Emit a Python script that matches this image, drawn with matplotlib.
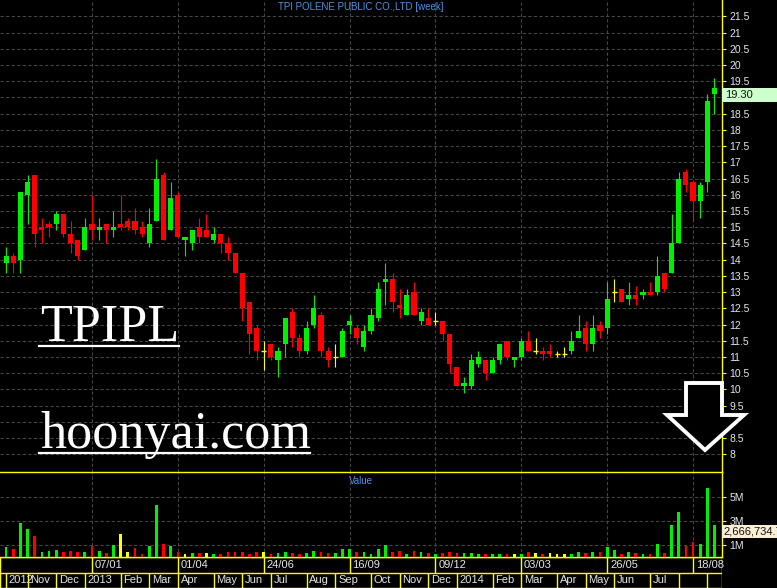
import numpy as np
import matplotlib
matplotlib.use('Agg')
import matplotlib.pyplot as plt
from matplotlib.patches import Polygon, Rectangle
from matplotlib import transforms

plt.rcParams['font.family'] = ['Liberation Sans', 'DejaVu Sans']

# weekly bars, TPIPL, week of 15/10/2012 .. week of 08/09/2014
opens = [13.9, 14.1, 14.0, 16.0, 16.6, 15.0, 15.1, 15.1, 15.4, 14.8,
         14.6, 14.3, 15.1, 14.9, 15.1, 14.9, 15.1, 15.2, 15.2, 15.0,
         14.5, 15.2, 16.6, 14.9, 16.0, 14.6, 14.5, 15.0, 14.9, 14.6,
         14.8, 14.5, 14.2, 13.6, 12.7, 11.9, 11.2, 11.4, 10.9, 11.4,
         12.4, 11.6, 11.2, 12.0, 12.3, 11.2, 11.0, 11.0, 12.0, 11.9,
         11.3, 11.8, 12.2, 13.3, 13.4, 12.6, 12.3, 13.0, 12.1, 12.2,
         12.1, 12.1, 11.7, 10.7, 10.1, 10.1, 10.8, 10.9, 10.5, 10.9,
         11.5, 10.9, 11.0, 11.5, 11.2, 11.2, 11.2, 11.1, 11.1, 11.2,
         11.6, 11.9, 11.4, 12.0, 11.9, 13.0, 13.1, 12.8, 12.9, 12.9,
         13.0, 13.0, 13.6, 13.6, 14.5, 16.7, 16.4, 15.8, 16.4, 19.1]
highs = [14.4, 14.2, 16.1, 16.6, 16.6, 15.3, 15.2, 15.5, 15.4, 15.2,
         14.6, 15.3, 16.0, 15.3, 15.1, 15.5, 16.0, 15.3, 15.6, 15.2,
         15.6, 17.1, 16.7, 16.4, 16.1, 14.7, 14.9, 15.3, 15.4, 15.0,
         14.8, 14.7, 14.2, 13.6, 12.7, 12.0, 11.5, 11.4, 11.3, 12.2,
         12.5, 11.7, 12.1, 12.9, 12.4, 11.3, 11.4, 11.9, 12.3, 12.0,
         12.0, 12.5, 13.3, 13.9, 13.6, 13.1, 13.1, 13.3, 12.5, 12.5,
         12.4, 12.1, 11.7, 10.7, 10.4, 11.1, 11.2, 10.9, 11.0, 11.4,
         11.5, 11.0, 11.6, 11.8, 11.6, 11.3, 11.4, 11.2, 11.3, 11.8,
         12.3, 12.1, 12.3, 12.1, 13.3, 13.4, 13.1, 13.3, 13.2, 13.1,
         13.3, 14.1, 13.6, 15.4, 16.7, 16.8, 16.4, 16.4, 19.1, 19.6]
lows = [13.6, 13.6, 13.6, 15.1, 14.4, 14.5, 14.7, 14.9, 14.7, 14.2,
        14.0, 14.3, 14.6, 14.6, 14.5, 14.7, 14.9, 14.9, 14.8, 14.7,
        14.4, 15.2, 14.6, 14.9, 14.7, 14.1, 14.3, 14.5, 14.7, 14.5,
        14.2, 14.0, 13.6, 12.1, 11.1, 10.9, 10.6, 10.9, 10.4, 11.0,
        11.3, 11.0, 11.1, 11.9, 11.0, 10.7, 10.7, 11.0, 11.7, 11.4,
        11.2, 11.7, 12.1, 12.6, 12.4, 12.2, 12.3, 12.3, 12.0, 12.0,
        12.0, 11.5, 10.5, 10.1, 9.9, 10.0, 10.7, 10.3, 10.5, 10.8,
        10.9, 10.7, 10.9, 11.2, 11.1, 10.9, 11.0, 11.0, 11.0, 11.1,
        11.6, 11.2, 11.2, 11.6, 11.7, 12.7, 12.7, 12.6, 12.6, 12.8,
        12.9, 12.9, 13.0, 13.6, 14.5, 16.1, 15.2, 15.3, 16.1, 18.5]
closes = [14.1, 13.9, 16.1, 16.4, 14.8, 14.9, 15.0, 15.4, 14.8, 14.5,
          14.1, 15.0, 14.9, 15.0, 14.9, 15.0, 15.0, 15.0, 14.9, 14.8,
          15.1, 16.5, 14.6, 15.9, 14.7, 14.7, 14.9, 14.7, 14.7, 14.8,
          14.5, 14.2, 13.6, 12.5, 11.7, 11.2, 11.2, 11.0, 11.2, 12.2,
          11.6, 11.2, 11.9, 12.5, 11.2, 10.9, 11.0, 11.8, 12.1, 11.6,
          11.8, 12.3, 13.1, 13.4, 12.7, 12.5, 12.9, 12.3, 12.4, 12.0,
          12.1, 11.7, 10.8, 10.1, 10.2, 10.9, 11.0, 10.5, 10.9, 11.4,
          11.0, 11.0, 11.5, 11.2, 11.2, 11.1, 11.1, 11.1, 11.1, 11.5,
          11.8, 11.4, 11.9, 11.8, 12.8, 13.0, 12.7, 12.9, 12.8, 13.0,
          12.9, 13.5, 13.1, 14.5, 16.5, 16.3, 15.8, 16.3, 18.9, 19.3]
# traded value, millions
volumes = [0.86, 0.69, 2.8, 2.36, 1.78, 0.44, 0.53, 0.61, 0.44, 0.53,
           0.44, 0.44, 0.94, 0.53, 0.36, 1.03, 1.89, 0.44, 0.78, 0.28,
           0.94, 4.36, 1.11, 0.94, 0.44, 0.28, 0.36, 0.36, 0.36, 0.28,
           0.28, 0.44, 0.44, 0.44, 0.28, 0.44, 0.44, 0.28, 0.36, 0.44,
           0.36, 0.28, 0.36, 0.53, 0.44, 0.36, 0.36, 0.69, 0.69, 0.44,
           0.44, 0.28, 0.69, 1.03, 0.44, 0.53, 0.28, 0.53, 0.44, 0.36,
           0.28, 0.36, 0.44, 0.36, 0.36, 0.36, 0.28, 0.28, 0.28, 0.28,
           0.28, 0.28, 0.28, 0.44, 0.36, 0.28, 0.36, 0.28, 0.28, 0.28,
           0.44, 0.36, 0.44, 0.44, 0.86, 0.61, 0.28, 0.44, 0.36, 0.28,
           0.28, 1.11, 0.36, 2.69, 3.78, 0.94, 1.28, 1.11, 5.78, 2.6667347]

week_ticks = [12, 24, 36, 48, 60, 72, 84, 96]
week_labels = ['07/01', '01/04', '24/06', '16/09', '09/12', '03/03', '26/05', '18/08']
month_starts = [0, 3, 7, 11, 16, 20, 24, 29, 33, 37, 42, 46, 51, 55, 59, 63,
                68, 72, 77, 81, 85, 90, 94, 98]
month_labels = ['2012', 'Nov', 'Dec', '2013', 'Feb', 'Mar', 'Apr', 'May', 'Jun',
                'Jul', 'Aug', 'Sep', 'Oct', 'Nov', 'Dec', '2014', 'Feb', 'Mar',
                'Apr', 'May', 'Jun', 'Jul', '', '']
price_ticks = np.arange(8, 21.51, 0.5)
vol_ticks = [1, 3, 5]

GREEN = '#00f000'
RED = '#ff0000'
YELLOW = '#ffff00'
AXIS = '#ffff00'
GRID = '#444444'
TXT = '#e6e6e6'
BLUE = '#4a94e4'

W, H = 777, 588
def box(l, t, r, b):
    return [l / W, 1 - b / H, (r - l) / W, (b - t) / H]

fig = plt.figure(figsize=(W / 100, H / 100), dpi=100, facecolor='black')
ax = fig.add_axes(box(0, 0, 722, 472), facecolor='black')
axv = fig.add_axes(box(0, 472, 722, 557), facecolor='black')
axd = fig.add_axes(box(0, 557, 722, 588), facecolor='black')

o = np.array(opens); h = np.array(highs); l = np.array(lows); c = np.array(closes)
x = np.arange(len(o))
xlim = (-0.858, 100.05)

# candles
col = np.where(c > o + 1e-9, GREEN, np.where(c < o - 1e-9, RED, YELLOW))
flat = np.isclose(c, o)
ax.vlines(x, l, h, colors=col, lw=0.8, zorder=3)
ax.bar(x[~flat], np.abs(c - o)[~flat], bottom=np.minimum(o, c)[~flat], width=0.72,
       color=col[~flat], lw=0, zorder=4)
ax.hlines(c[flat], x[flat] - 0.36, x[flat] + 0.36, colors=YELLOW, lw=1.0, zorder=4)

ax.set_xlim(*xlim)
ax.set_ylim(7.457, 22.003)
ax.set_xticks(week_ticks)
ax.set_yticks(price_ticks)
ax.yaxis.set_major_formatter(lambda v, p: f'{v:g}')
ax.yaxis.tick_right()
ax.tick_params(axis='y', colors=AXIS, labelcolor=TXT, labelsize=7.5, length=3, width=0.8, pad=2.5)
ax.tick_params(axis='x', length=0, labelbottom=False)
ax.grid(True, color=GRID, linestyle=(0, (3, 2)), lw=0.8, zorder=1)
for s in ['top', 'left', 'bottom']:
    ax.spines[s].set_visible(False)
ax.spines['right'].set_color(AXIS)
ax.spines['right'].set_linewidth(1)

# last price marker (box hangs below the level)
tr = transforms.blended_transform_factory(ax.transAxes, ax.transData)
ax.add_patch(Rectangle((1.0, c[-1] - 0.43), 0.1, 0.43, transform=tr, fc='#ccffcc', ec='none',
                       clip_on=False, zorder=6))
ax.text(1.004, c[-1] - 0.215, f'{c[-1]:.2f}', transform=tr, color='#111111', fontsize=8,
        va='center', ha='left', zorder=7)

fig.text(361 / W, 1 - 7 / H, 'TPI POLENE PUBLIC CO.,LTD [week]', color=BLUE, fontsize=7,
         ha='center', va='center')

# volume panel
v = np.array(volumes)
prev = np.r_[o[0], c[:-1]]
vcol = np.where(c > prev + 1e-9, GREEN, np.where(c < prev - 1e-9, RED, YELLOW))
axv.bar(x, v, width=0.38, color=vcol, lw=0, zorder=3)
axv.set_xlim(*xlim)
axv.set_ylim(0, 7.083)
axv.set_xticks(week_ticks)
axv.set_yticks(vol_ticks)
axv.yaxis.set_major_formatter(lambda val, p: f'{val:g}M')
axv.yaxis.tick_right()
axv.tick_params(axis='y', colors=AXIS, labelcolor=TXT, labelsize=7.5, length=3, width=0.8, pad=2.5)
axv.tick_params(axis='x', length=0, labelbottom=False)
axv.grid(True, color=GRID, linestyle=(0, (3, 2)), lw=0.8, zorder=1)
axv.spines['left'].set_visible(False)
for s in ['right', 'bottom', 'top']:
    axv.spines[s].set_color(AXIS)
    axv.spines[s].set_linewidth(1)
axv.text(0.5, 0.9, 'Value', transform=axv.transAxes, color=BLUE, fontsize=7,
         ha='center', va='center')

trv = transforms.blended_transform_factory(axv.transAxes, axv.transData)
axv.add_patch(Rectangle((1.0, v[-1] - 1.11), 0.1, 1.11, transform=trv, fc='#faeed5', ec='none',
                        clip_on=False, zorder=6))
axv.text(1.002, v[-1] - 0.555, f'{v[-1] * 1e6:,.1f}', transform=trv, color='#111111', fontsize=8,
         va='center', ha='left', zorder=7)

# date rows
axd.set_xlim(*xlim)
axd.set_ylim(0, 2)
axd.axis('off')
for yy in [0.02, 1, 1.98]:
    axd.axhline(yy, color=AXIS, lw=1)
axd.vlines([xlim[0] + 0.06, xlim[1] - 0.06], 0, 2, color=AXIS, lw=1)
axd.vlines(week_ticks, 1, 2, color=AXIS, lw=1)
for xi, lab in zip(week_ticks, week_labels):
    axd.annotate(lab, (xi, 1.5), xytext=(2, 0), textcoords='offset points',
                 color=TXT, fontsize=8, va='center', ha='left')
axd.vlines(month_starts, 0, 1, color=AXIS, lw=1)
for xi, lab in zip(month_starts, month_labels):
    axd.annotate(lab, (xi, 0.5), xytext=(2, 0), textcoords='offset points',
                 color=TXT, fontsize=8, va='center', ha='left')

# overlay: watermark and arrow
ov = fig.add_axes([0, 0, 1, 1])
ov.set_xlim(0, W)
ov.set_ylim(H, 0)
ov.axis('off')
ov.patch.set_alpha(0)
ov.text(40, 341, 'TPIPL', family='Liberation Serif', fontsize=37.5, color='white',
        ha='left', va='baseline')
ov.plot([39, 179], [346, 346], color='white', lw=1.6)
ov.text(40, 448, 'hoonyai.com', family='Liberation Serif', fontsize=37.5, color='white',
        ha='left', va='baseline')
ov.plot([39, 310], [453, 453], color='white', lw=1.6)
arrow = [(686, 383), (722, 383), (722, 415), (744, 415), (705, 450), (667, 415), (686, 415)]
ov.add_patch(Polygon(arrow, closed=True, fc='black', ec='white', lw=2.8, joinstyle='miter'))

fig.savefig('out.png', dpi=100, facecolor='black')
